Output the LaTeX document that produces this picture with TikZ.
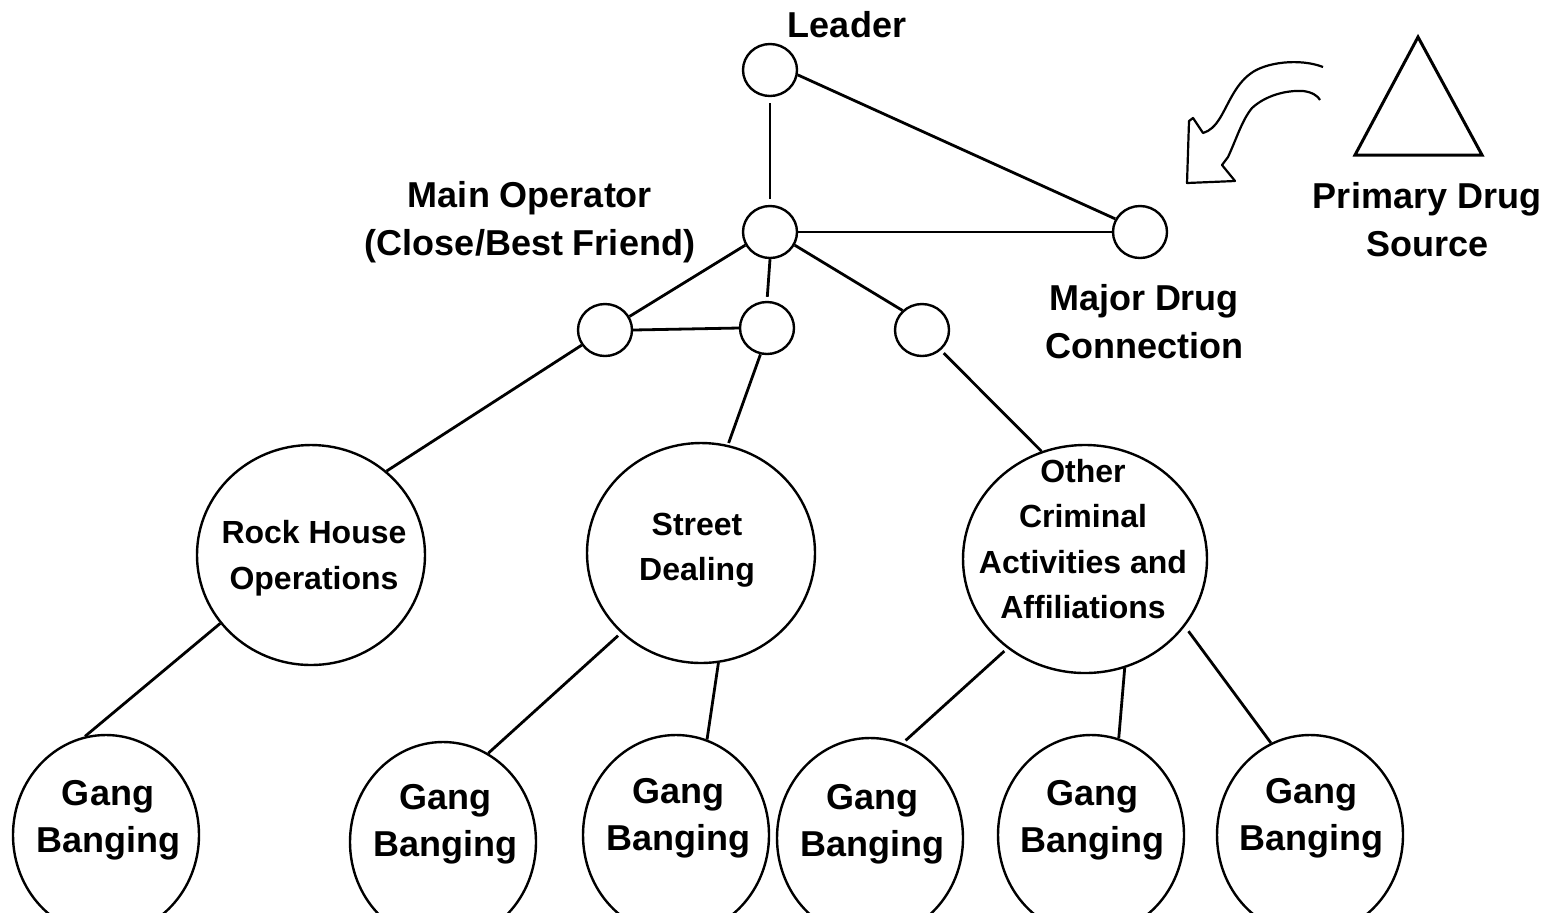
\documentclass[tikz,border=0pt]{standalone}
\usepackage{fontspec}
\setmainfont{Liberation Sans}
\usetikzlibrary{shapes.geometric}
\tikzset{
  x=0.5pt, y=-0.5pt,
  every path/.style={line width=1.3pt},
  small/.style={ellipse, draw, line width=1.2pt, minimum width=27pt, minimum height=26pt, inner sep=0pt},
  bigc/.style={ellipse, draw, line width=1.2pt, minimum width=114pt, minimum height=110pt, inner sep=0pt},
  otherc/.style={ellipse, draw, line width=1.2pt, minimum width=122pt, minimum height=114pt, inner sep=0pt},
  gangc/.style={ellipse, draw, line width=1.2pt, minimum width=93pt, minimum height=100pt, inner sep=0pt},
  lbl/.style={align=center, font=\fontsize{18}{24}\selectfont\bfseries, inner sep=0pt},
  intext/.style={align=center, font=\fontsize{16}{22.75}\selectfont\bfseries, inner sep=0pt},
  gtext/.style={align=center, font=\fontsize{18}{23.5}\selectfont\bfseries, inner sep=0pt},
  edge/.style={line width=1.4pt}
}
\begin{document}
\begin{tikzpicture}
\useasboundingbox[fill=white] (0,0) rectangle (1561,912);

% small nodes
\node[small] (leader) at (770,70) {};
\node[small] (main) at (770,232) {};
\node[small] (major) at (1140,232) {};
\node[small] (sl) at (605,330) {};
\node[small] (sm) at (767,328) {};
\node[small] (sr) at (922,330) {};

% big nodes
\node[bigc] (rock) at (311,555) {};
\node[bigc] (street) at (701,553) {};
\node[otherc] (other) at (1085,559) {};

% gang nodes
\node[gangc] (g1) at (106,835) {};
\node[gangc] (g2) at (443,842) {};
\node[gangc] (g3) at (676,835) {};
\node[gangc] (g4) at (870,838) {};
\node[gangc] (g5) at (1091,835) {};
\node[gangc] (g6) at (1310,835) {};

% texts
\node[lbl] (tleader) at (847,25) {Leader};
\node[lbl] (tmain) at (530,222) {Main Operator\\(Close/Best Friend)};
\node[lbl] (tmajor) at (1144,322) {Major Drug\\Connection};
\node[lbl] (tprimary) at (1427,220) {Primary Drug\\Source};
\node[intext] (trock) at (314,558) {Rock House\\Operations};
\node[intext] (tstreet) at (697,550) {Street\\Dealing};
\node[intext] (tother) at (1083,539) {Other\\Criminal\\Activities and\\Affiliations};
\node[gtext] (tg1) at (108,820) {Gang\\Banging};
\node[gtext] (tg2) at (445,824) {Gang\\Banging};
\node[gtext] (tg3) at (678,818) {Gang\\Banging};
\node[gtext] (tg4) at (872,824) {Gang\\Banging};
\node[gtext] (tg5) at (1092,820) {Gang\\Banging};
\node[gtext] (tg6) at (1311,818) {Gang\\Banging};

% connectors
\draw[edge, shorten <=3pt, shorten >=3pt] (leader) -- (main);
\draw[edge] (leader.-10) -- (major.152);
\draw[edge] (main.0) -- (major.180);
\draw[edge] (main.208) -- (sl.29);
\draw[edge, shorten >=2pt] (main.270) -- (sm.90);
\draw[edge] (main.332) -- (sr.135);
\draw[edge] (sl.0) -- (sm.180);
\draw[edge] (sl.213) -- (rock.48);
\draw[edge, shorten >=1pt] (sm.256) -- (street.76);
\draw[edge, shorten <=2pt] (sr.313) -- (other.112);
\draw[edge] (rock.217) -- (g1.102);
\draw[edge, shorten <=2pt] (street.225) -- (g2.63);
\draw[edge] (street.279) -- (g3.72);
\draw[edge, shorten <=2pt, shorten >=2pt] (other.229) -- (g4.71);
\draw[edge] (other.290) -- (g5.74);
\draw[edge, shorten <=3pt] (other.326) -- (g6.113);

% triangle
\draw[line width=1.5pt, line join=miter] (1418,37) -- (1482,155) -- (1355,155) -- cycle;

% hand-drawn hollow arrow
\draw[line width=1.1pt, line join=round]
  (1323,67) .. controls (1300,58) and (1265,62) .. (1250,74)
  .. controls (1235,85) and (1228,105) .. (1220,118)
  .. controls (1215,126) and (1210,131) .. (1203,133)
  -- (1193,118) -- (1189,121) -- (1187,183) -- (1235,181)
  -- (1222,165) -- (1228,157)
  .. controls (1236,140) and (1242,120) .. (1252,108)
  .. controls (1265,96) and (1285,90) .. (1303,91)
  .. controls (1312,92) and (1318,96) .. (1320,100);
\end{tikzpicture}
\end{document}
